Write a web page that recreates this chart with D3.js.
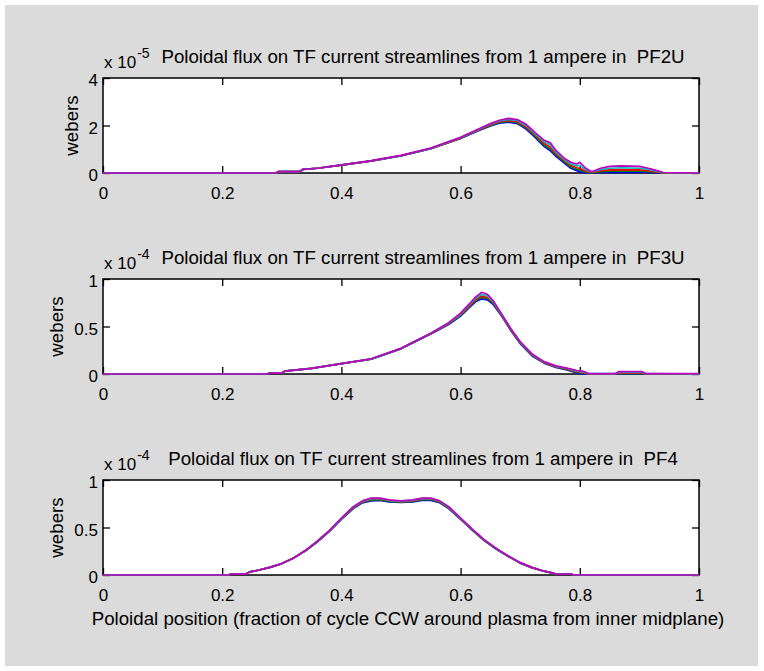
<!DOCTYPE html>
<html>
<head>
<meta charset="utf-8">
<script src="https://cdn.jsdelivr.net/npm/d3@7/dist/d3.min.js"></script>
<style>
  html, body { margin: 0; padding: 0; background: #ffffff; }
  svg { display: block; }
  text { font-family: "Liberation Sans", Arial, Helvetica, sans-serif; fill: #000; }
</style>
</head>
<body>
<script>
// Poloidal flux on TF current streamlines, 1 A in each PF coil.
// Series order: blue, green, red, cyan, magenta (MATLAB line order).

const xTicks = [0, 0.2, 0.4, 0.6, 0.8, 1];
const xTickLabels = ["0", "0.2", "0.4", "0.6", "0.8", "1"];

// ---- PF2U (units of 1e-5 Wb) ----
const pf2uX = [0, 0.29, 0.295, 0.33, 0.335, 0.36, 0.4, 0.45, 0.5, 0.55, 0.6, 0.63, 0.65, 0.665, 0.68, 0.695, 0.71, 0.725, 0.74, 0.75, 0.76, 0.775, 0.785, 0.795, 0.8, 0.81, 0.82, 0.835, 0.85, 0.87, 0.9, 0.915, 0.93, 0.94, 1];
const pf2uBlue    = [0, 0, 0.06, 0.06, 0.15, 0.2, 0.33, 0.5, 0.72, 1.02, 1.45, 1.78, 1.98, 2.1, 2.14, 2.08, 1.85, 1.5, 1.12, 0.95, 0.7, 0.4, 0.2, 0.1, 0.06, 0, 0, 0.02, 0.03, 0.04, 0.03, 0.02, 0, 0, 0];
const pf2uGreen   = [0, 0, 0.06, 0.06, 0.15, 0.2, 0.33, 0.505, 0.725, 1.025, 1.46, 1.8, 2.0, 2.13, 2.18, 2.12, 1.9, 1.55, 1.18, 1.02, 0.76, 0.45, 0.26, 0.16, 0.13, 0.04, 0, 0.06, 0.08, 0.09, 0.08, 0.06, 0.02, 0, 0];
const pf2uRed     = [0, 0, 0.06, 0.06, 0.15, 0.2, 0.335, 0.51, 0.73, 1.03, 1.47, 1.81, 2.03, 2.16, 2.21, 2.16, 1.95, 1.6, 1.25, 1.1, 0.82, 0.5, 0.32, 0.22, 0.2, 0.08, 0.02, 0.1, 0.13, 0.14, 0.13, 0.1, 0.04, 0, 0];
const pf2uCyan    = [0, 0, 0.06, 0.06, 0.15, 0.2, 0.34, 0.515, 0.735, 1.04, 1.49, 1.83, 2.06, 2.19, 2.26, 2.21, 2.0, 1.65, 1.32, 1.2, 0.88, 0.55, 0.38, 0.3, 0.32, 0.14, 0.04, 0.15, 0.2, 0.22, 0.2, 0.15, 0.07, 0.01, 0];
const pf2uMagenta = [0, 0, 0.06, 0.06, 0.15, 0.2, 0.34, 0.52, 0.74, 1.05, 1.5, 1.85, 2.08, 2.22, 2.3, 2.25, 2.05, 1.7, 1.38, 1.28, 0.95, 0.6, 0.45, 0.38, 0.45, 0.2, 0.05, 0.2, 0.28, 0.3, 0.28, 0.2, 0.1, 0.02, 0];
const pf2uYTicks = [0, 2, 4];
const pf2uYTickLabels = ["0", "2", "4"];

// ---- PF3U (units of 1e-4 Wb) ----
const pf3uX = [0, 0.275, 0.28, 0.3, 0.305, 0.35, 0.4, 0.45, 0.5, 0.55, 0.58, 0.6, 0.615, 0.625, 0.635, 0.645, 0.655, 0.67, 0.685, 0.7, 0.72, 0.74, 0.76, 0.78, 0.795, 0.805, 0.815, 0.86, 0.865, 0.905, 0.91, 1];
const pf3uBlue    = [0, 0, 0.01, 0.01, 0.03, 0.06, 0.11, 0.155, 0.265, 0.42, 0.52, 0.61, 0.7, 0.76, 0.79, 0.78, 0.73, 0.6, 0.45, 0.32, 0.19, 0.115, 0.07, 0.04, 0.01, 0, 0, 0, 0, 0, 0, 0];
const pf3uGreen   = [0, 0, 0.01, 0.01, 0.03, 0.06, 0.11, 0.157, 0.267, 0.424, 0.525, 0.617, 0.71, 0.773, 0.807, 0.795, 0.742, 0.605, 0.455, 0.326, 0.196, 0.119, 0.074, 0.045, 0.017, 0.01, 0, 0, 0.005, 0.005, 0, 0];
const pf3uRed     = [0, 0, 0.01, 0.01, 0.03, 0.06, 0.11, 0.158, 0.268, 0.426, 0.53, 0.625, 0.72, 0.785, 0.82, 0.807, 0.752, 0.61, 0.46, 0.332, 0.2, 0.122, 0.077, 0.05, 0.022, 0.015, 0, 0, 0.01, 0.01, 0, 0];
const pf3uCyan    = [0, 0, 0.01, 0.01, 0.03, 0.06, 0.11, 0.159, 0.269, 0.428, 0.535, 0.632, 0.73, 0.797, 0.84, 0.823, 0.76, 0.615, 0.465, 0.336, 0.205, 0.126, 0.081, 0.055, 0.028, 0.022, 0.003, 0.003, 0.018, 0.018, 0.003, 0];
const pf3uMagenta = [0, 0, 0.01, 0.01, 0.03, 0.06, 0.11, 0.16, 0.27, 0.43, 0.54, 0.64, 0.74, 0.81, 0.86, 0.84, 0.77, 0.62, 0.47, 0.34, 0.21, 0.13, 0.085, 0.06, 0.035, 0.03, 0.005, 0.005, 0.025, 0.025, 0.005, 0.005];
const pf3uYTicks = [0, 0.5, 1];
const pf3uYTickLabels = ["0", "0.5", "1"];

// ---- PF4 (units of 1e-4 Wb) ----
const pf4X = [0, 0.21, 0.215, 0.24, 0.245, 0.26, 0.28, 0.3, 0.32, 0.34, 0.36, 0.38, 0.4, 0.42, 0.435, 0.45, 0.465, 0.48, 0.5, 0.52, 0.535, 0.55, 0.565, 0.58, 0.6, 0.62, 0.64, 0.66, 0.68, 0.7, 0.72, 0.74, 0.755, 0.76, 0.785, 0.79, 1];
const pf4Blue    = [0, 0, 0.01, 0.01, 0.03, 0.05, 0.08, 0.12, 0.18, 0.255, 0.35, 0.46, 0.585, 0.7, 0.76, 0.78, 0.785, 0.77, 0.765, 0.77, 0.785, 0.785, 0.76, 0.7, 0.585, 0.47, 0.36, 0.27, 0.195, 0.125, 0.075, 0.04, 0.02, 0.01, 0.01, 0, 0];
const pf4Green   = [0, 0, 0.01, 0.01, 0.03, 0.05, 0.08, 0.12, 0.18, 0.257, 0.353, 0.463, 0.59, 0.705, 0.765, 0.788, 0.792, 0.775, 0.768, 0.775, 0.792, 0.792, 0.766, 0.706, 0.59, 0.473, 0.363, 0.273, 0.197, 0.127, 0.077, 0.04, 0.02, 0.01, 0.01, 0, 0];
const pf4Red     = [0, 0, 0.01, 0.01, 0.03, 0.05, 0.08, 0.12, 0.18, 0.258, 0.355, 0.465, 0.593, 0.71, 0.77, 0.798, 0.8, 0.782, 0.772, 0.78, 0.8, 0.8, 0.772, 0.71, 0.593, 0.476, 0.365, 0.275, 0.198, 0.128, 0.078, 0.04, 0.02, 0.01, 0.01, 0, 0];
const pf4Cyan    = [0, 0, 0.01, 0.01, 0.03, 0.05, 0.08, 0.12, 0.18, 0.259, 0.358, 0.468, 0.597, 0.715, 0.775, 0.804, 0.805, 0.786, 0.776, 0.785, 0.805, 0.805, 0.776, 0.715, 0.597, 0.478, 0.368, 0.278, 0.199, 0.129, 0.079, 0.04, 0.02, 0.01, 0.01, 0, 0];
const pf4Magenta = [0, 0, 0.01, 0.01, 0.03, 0.05, 0.08, 0.12, 0.18, 0.26, 0.36, 0.47, 0.6, 0.72, 0.78, 0.81, 0.81, 0.79, 0.78, 0.79, 0.81, 0.81, 0.78, 0.72, 0.6, 0.48, 0.37, 0.28, 0.2, 0.13, 0.08, 0.04, 0.02, 0.01, 0.01, 0, 0];
const pf4YTicks = [0, 0.5, 1];
const pf4YTickLabels = ["0", "0.5", "1"];

const seriesColors = ["#0000ff", "#008000", "#ff0000", "#00bfbf", "#bf00bf"];
const coilNames = ["PF2U", "PF3U", "PF4"];
const exponents = ["-5", "-4", "-4"];
const xLabelText = "Poloidal position (fraction of cycle CCW around plasma from inner midplane)";
const yLabelText = "webers";

const panels = [
  { x: pf2uX, ys: [pf2uBlue, pf2uGreen, pf2uRed, pf2uCyan, pf2uMagenta], yMax: 4, yTicks: pf2uYTicks, yTickLabels: pf2uYTickLabels },
  { x: pf3uX, ys: [pf3uBlue, pf3uGreen, pf3uRed, pf3uCyan, pf3uMagenta], yMax: 1, yTicks: pf3uYTicks, yTickLabels: pf3uYTickLabels },
  { x: pf4X,  ys: [pf4Blue, pf4Green, pf4Red, pf4Cyan, pf4Magenta],     yMax: 1, yTicks: pf4YTicks,  yTickLabels: pf4YTickLabels }
];

const W = 764, H = 671;
const axLeft = 103, axRight = 699, axH = 95;
const axTops = [78, 279, 480];
const tickFs = 17;      // axis tick labels
const labelFs = 18.7;   // titles and axis labels
const tickLen = 7;

const svg = d3.select("body").append("svg").attr("width", W).attr("height", H);

// figure background with thin white margin
svg.append("rect").attr("x", 0).attr("y", 0).attr("width", W).attr("height", H).attr("fill", "#ffffff");
svg.append("rect").attr("x", 5).attr("y", 5).attr("width", 753).attr("height", 661).attr("fill", "#dbdbdb");

const xScale = d3.scaleLinear().domain([0, 1]).range([axLeft, axRight]);

panels.forEach((p, i) => {
  const top = axTops[i], bottom = top + axH;
  const yScale = d3.scaleLinear().domain([0, p.yMax]).range([bottom, top]);
  const g = svg.append("g");

  // white plot area
  g.append("rect").attr("x", axLeft).attr("y", top)
    .attr("width", axRight - axLeft).attr("height", axH).attr("fill", "#ffffff");

  // axes: ticks point inward on all four sides
  const bottomAxis = d3.axisBottom(xScale).tickValues(xTicks).tickSize(-tickLen).tickPadding(13.5)
    .tickFormat((d, k) => xTickLabels[k]);
  const topAxis = d3.axisTop(xScale).tickValues(xTicks).tickSize(-tickLen).tickFormat("");
  const leftAxis = d3.axisLeft(yScale).tickValues(p.yTicks).tickSize(-tickLen).tickPadding(5)
    .tickFormat((d, k) => p.yTickLabels[k]);
  const rightAxis = d3.axisRight(yScale).tickValues(p.yTicks).tickSize(-tickLen).tickFormat("");

  const styleAxis = sel => {
    sel.selectAll(".domain").remove();
    sel.selectAll(".tick line").attr("stroke", "#000").attr("stroke-width", 1.3);
    sel.selectAll(".tick text").attr("font-size", tickFs)
      .attr("font-family", "Liberation Sans, Arial, sans-serif").attr("fill", "#000");
  };
  g.append("g").attr("transform", `translate(0,${bottom})`).call(bottomAxis).call(styleAxis);
  g.append("g").attr("transform", `translate(0,${top})`).call(topAxis).call(styleAxis);
  const leftG = g.append("g").attr("transform", `translate(${axLeft},0)`).call(leftAxis).call(styleAxis);
  leftG.selectAll(".tick text").attr("dy", "0.45em");
  g.append("g").attr("transform", `translate(${axRight},0)`).call(rightAxis).call(styleAxis);

  g.append("rect").attr("x", axLeft).attr("y", top)
    .attr("width", axRight - axLeft).attr("height", axH)
    .attr("fill", "none").attr("stroke", "#000").attr("stroke-width", 1.5);

  // curves
  const line = d3.line().x((d, k) => xScale(p.x[k])).y(d => yScale(d));
  p.ys.forEach((ys, s) => {
    g.append("path").datum(ys).attr("d", line)
      .attr("fill", "none").attr("stroke", seriesColors[s])
      .attr("stroke-width", 1.7).attr("stroke-linejoin", "round");
  });

  // exponent label
  const ex = g.append("text").attr("x", axLeft + 1).attr("y", top - 10).attr("font-size", tickFs);
  ex.append("tspan").text("x 10");
  ex.append("tspan").attr("dx", 1).attr("dy", -10).attr("font-size", 14).text(exponents[i]);

  // title
  g.append("text").attr("x", 423).attr("y", top - 15).attr("text-anchor", "middle")
    .attr("font-size", labelFs)
    .style("white-space", "pre")
    .text("Poloidal flux on TF current streamlines from 1 ampere in  " + coilNames[i]);

  // y label sits just left of the widest tick label
  let minLeft = Infinity;
  leftG.selectAll(".tick text").each(function () {
    const b = this.getBBox();
    minLeft = Math.min(minLeft, axLeft + b.x);
  });
  g.append("text").attr("transform", `translate(${minLeft - 11},${(top + bottom) / 2}) rotate(-90)`)
    .attr("text-anchor", "middle").attr("font-size", labelFs).text(yLabelText);
});

// x label
svg.append("text").attr("x", 408).attr("y", 625).attr("text-anchor", "middle")
  .attr("font-size", labelFs).text(xLabelText);
</script>
</body>
</html>
